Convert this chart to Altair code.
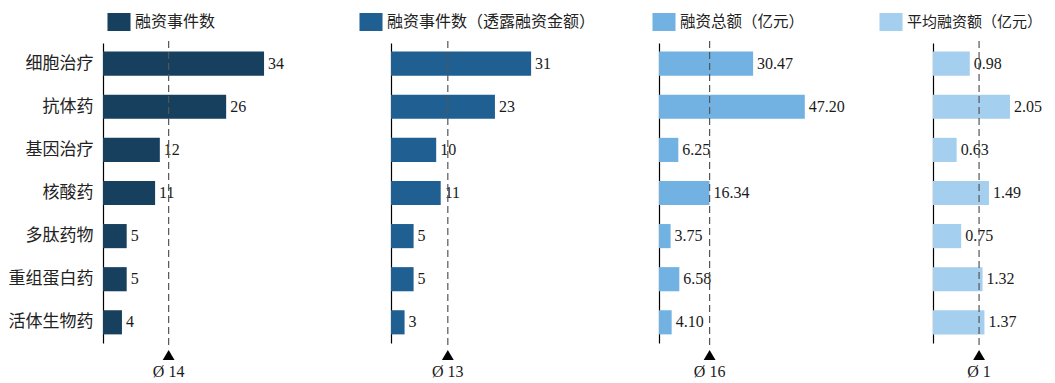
import altair as alt
import pandas as pd

categories = ["细胞治疗", "抗体药", "基因治疗", "核酸药", "多肽药物", "重组蛋白药", "活体生物药"]
events = [34, 26, 12, 11, 5, 5, 4]
events_disclosed = [31, 23, 10, 11, 5, 5, 3]
total_amount = [30.47, 47.20, 6.25, 16.34, 3.75, 6.58, 4.10]
avg_amount = [0.98, 2.05, 0.63, 1.49, 0.75, 1.32, 1.37]

series_names = ["融资事件数", "融资事件数（透露融资金额）", "融资总额（亿元）", "平均融资额（亿元）"]
series_values = [events, events_disclosed, total_amount, avg_amount]
colors = ["#17405F", "#1F5F91", "#72B2E2", "#A5CFEE"]
formats = [".0f", ".0f", ".2f", ".2f"]
domains = [60.8, 59.3, 88.7, 2.93]
widths = [288, 268, 274, 110]
legend_x = [7, -29, -4, -51]
legend_fs = [16, 16, 15.5, 15]

H = 300
CJK = "Noto Sans CJK SC"
SERIF = "Liberation Serif"

panels = []
for i, (name, vals, col, fmt, dmax, w, lx, lfs) in enumerate(
        zip(series_names, series_values, colors, formats, domains, widths,
            legend_x, legend_fs)):
    df = pd.DataFrame({"cat": categories, "val": vals, "series": name})
    show_labels = i == 0
    y = alt.Y("cat:N", sort=categories,
              scale=alt.Scale(paddingInner=0.44, paddingOuter=0.2),
              axis=alt.Axis(title=None, labels=show_labels, ticks=False,
                            domainColor="#000000", domainWidth=1.2,
                            labelFont=CJK, labelFontSize=17, labelColor="#222222",
                            labelPadding=10, minExtent=0, grid=False))
    x = alt.X("val:Q", scale=alt.Scale(domain=[0, dmax], nice=False, zero=True),
              axis=None)
    base = alt.Chart(df)
    bars = base.mark_bar(cornerRadius=0).encode(
        x=x, y=y,
        color=alt.Color("series:N",
                        scale=alt.Scale(domain=[name], range=[col]),
                        legend=alt.Legend(title=None, orient="none",
                                          legendX=lx, legendY=-30,
                                          symbolType="M-1.28,-1H1.28V1H-1.28Z",
                                          symbolSize=324, symbolStrokeWidth=0,
                                          symbolOpacity=1,
                                          labelFont=CJK, labelFontSize=lfs,
                                          labelColor="#222222", labelOffset=7,
                                          padding=0, labelLimit=400)),
    )
    labels = base.mark_text(align="left", baseline="middle", dx=4,
                            font=SERIF, fontSize=16, color="#1a1a1a").encode(
        x="val:Q", y=alt.Y("cat:N", sort=categories),
        text=alt.Text("val:Q", format=fmt),
    )
    mean_base = base.transform_aggregate(mean="mean(val)")
    rule = mean_base.mark_rule(color="#555555", strokeDash=[7, 4], strokeWidth=1.2).encode(
        x="mean:Q", y=alt.value(-2), y2=alt.value(H + 5))
    tri = mean_base.mark_point(shape="triangle-up", filled=True, color="#000000",
                               size=140, opacity=1).encode(
        x="mean:Q", y=alt.value(H + 12))
    avg_txt = mean_base.transform_calculate(
        lbl="'Ø ' + format(datum.mean, '.0f')").mark_text(
        align="center", baseline="middle", font=SERIF, fontSize=16,
        color="#1a1a1a").encode(x="mean:Q", y=alt.value(H + 29), text="lbl:N")
    panel = alt.layer(bars, labels, rule, tri, avg_txt).properties(
        width=w, height=H, view=alt.ViewConfig(stroke=None))
    panels.append(panel)

chart = alt.hconcat(*panels, spacing=0, bounds="flush").resolve_scale(
    color="independent", x="independent"
).configure_view(stroke=None).configure(
    padding={"left": 0, "top": 5, "right": 0, "bottom": 0}).properties(
    background="white")

chart.save("out.html", embed_options={"renderer": "svg", "actions": False})
